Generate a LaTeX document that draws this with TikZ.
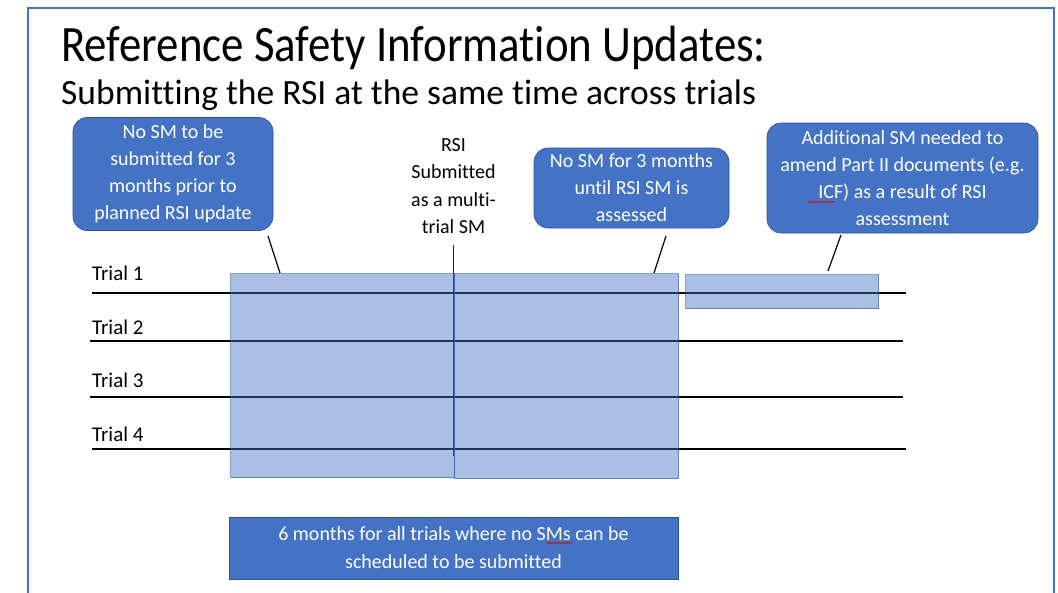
\documentclass[tikz,border=0pt]{standalone}
\usepackage{fontspec}
\setmainfont{Carlito}[Ligatures=NoCommon]
\newfontfamily\titlefont{Carlito}[FakeStretch=0.88, Ligatures=NoCommon]
\usetikzlibrary{decorations.pathmorphing}
\definecolor{accent}{HTML}{4472C4}
\definecolor{accentdark}{HTML}{2F528F}
\definecolor{spellred}{HTML}{E00000}
\tikzset{
  frame/.style={draw=accent, line width=2pt},
  callbox/.style={rectangle, rounded corners=14pt, fill=accent, draw=accentdark, line width=0.6pt,
     text=white, align=center, inner sep=0pt, font=\fontsize{20}{27}\selectfont},
  plainbox/.style={rectangle, fill=accent, draw=accentdark, line width=0.6pt,
     text=white, align=center, inner sep=0pt, font=\fontsize{20}{28}\selectfont},
  shade/.style={rectangle, fill=accent, fill opacity=0.45, draw=accentdark, draw opacity=0.55, line width=1pt, inner sep=0pt},
  trialline/.style={draw=black, line width=1.5pt},
  marker/.style={draw=black!85, line width=1.5pt},
  callout/.style={draw=black, line width=1.2pt},
  triallabel/.style={anchor=base west, inner sep=0pt, font=\fontsize{21}{25}\selectfont},
  squiggle/.style={draw=spellred, line width=0.6pt, decorate, decoration={snake, amplitude=0.8pt, segment length=3pt}},
}
\begin{document}
\begin{tikzpicture}[x=1pt,y=-1pt]
\useasboundingbox (0,0) rectangle (1058,592);
\clip (0,0) rectangle (1058,592);
\fill[white] (0,0) rectangle (1058,592);
% frame
\draw[frame] (27.5,600) -- (27.5,7.5) -- (1054,7.5) -- (1054,600);
% titles
\node[anchor=base west, inner sep=0pt, font=\titlefont\fontsize{51}{56}\selectfont] (title) at (61,61) {Reference Safety Information Updates:};
\node[anchor=base west, inner sep=0pt, font=\fontsize{35.5}{40}\selectfont] (subtitle) at (61,104) {Submitting the RSI at the same time across trials};
% trial labels
\node[triallabel] (t1) at (92,280) {Trial 1};
\node[triallabel] (t2) at (92,334) {Trial 2};
\node[triallabel] (t3) at (92,387) {Trial 3};
\node[triallabel] (t4) at (92,441) {Trial 4};
% trial lines
\coordinate (l1a) at (92,293);  \coordinate (l1b) at (906,293);
\coordinate (l2a) at (90,341);  \coordinate (l2b) at (903,341);
\coordinate (l3a) at (90,397);  \coordinate (l3b) at (903,397);
\coordinate (l4a) at (92,449);  \coordinate (l4b) at (906,449);
\draw[trialline] (l1a) -- (l1b);
\draw[trialline] (l2a) -- (l2b);
\draw[trialline] (l3a) -- (l3b);
\draw[trialline] (l4a) -- (l4b);
% RSI submission marker
\coordinate (ma) at (453.5,245);
\coordinate (mb) at (453.5,456);
\draw[marker] (ma) -- (mb);
% shaded periods
\node[shade, anchor=north west, minimum width=224pt, minimum height=204pt] (before) at (230,273) {};
\node[shade, anchor=north west, minimum width=224pt, minimum height=205pt] (after) at (454,273) {};
\node[shade, anchor=north west, minimum width=193pt, minimum height=34pt] (extra) at (685,274) {};
% callout boxes
\node[callbox, minimum width=200pt, minimum height=113pt] (b1) at (173,174) {No SM to be\\submitted for 3\\months prior to\\planned RSI update};
\node[callbox, minimum width=195pt, minimum height=80pt] (b2) at (631.5,188) {No SM for 3 months\\until RSI SM is\\assessed};
\node[callbox, minimum width=271pt, minimum height=110pt] (b3) at (902.5,178) {Additional SM needed to\\amend Part II documents (e.g.\\ICF) as a result of RSI\\assessment};
\node[align=center, inner sep=0pt, font=\fontsize{20}{27.5}\selectfont] (rsi) at (453.5,186) {RSI\\Submitted\\as a multi-\\trial SM};
% callout lines
\coordinate (c1a) at (268,236); \coordinate (c1b) at (280,273);
\coordinate (c2a) at (666,236); \coordinate (c2b) at (654,273);
\coordinate (c3a) at (841,235); \coordinate (c3b) at (828,271);
\draw[callout] (c1a) -- (c1b);
\draw[callout] (c2a) -- (c2b);
\draw[callout] (c3a) -- (c3b);
% bottom box
\node[plainbox, minimum width=449pt, minimum height=62pt] (six) at (453.5,548) {6 months for all trials where no SMs can be\\scheduled to be submitted};
% spell-check marks
\coordinate (s1a) at (808,202); \coordinate (s1b) at (835,202);
\coordinate (s2a) at (546,543); \coordinate (s2b) at (572,543);
\draw[squiggle] (s1a) -- (s1b);
\draw[squiggle] (s2a) -- (s2b);
\end{tikzpicture}
\end{document}
